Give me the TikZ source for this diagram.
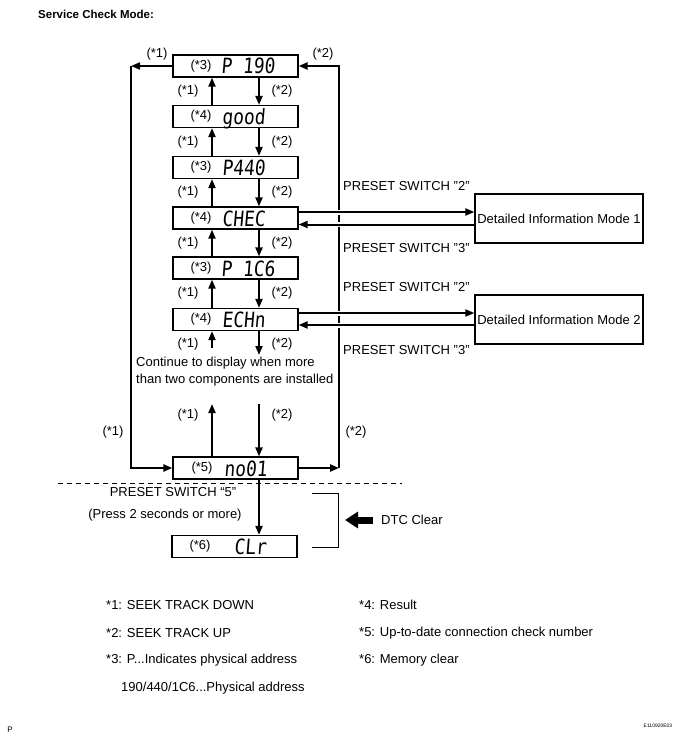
\documentclass[tikz,border=0pt]{standalone}
\usepackage{fontspec}
\usepackage{graphicx}
\setmainfont{Liberation Sans}
\newfontfamily\lcdfont{DejaVu Sans Mono}[FakeSlant=0.1]
\usetikzlibrary{arrows.meta}
\newcommand\lcdtxt[1]{\scalebox{0.85}[1]{\lcdfont\fontsize{21}{21}\selectfont #1}}
\begin{document}
\begin{tikzpicture}[x=1pt,y=-1pt,
  every node/.style={font=\fontsize{13}{17}\selectfont, inner sep=0pt},
  box/.style={draw, line width=1.2pt, minimum width=125pt, minimum height=22pt},
  dim/.style={draw, line width=1.2pt, minimum width=168pt, minimum height=49pt},
  lcd/.style={anchor=base west},
  arr/.style={line width=2pt, -{Triangle[length=9pt,width=7pt]}},
  side/.style={line width=2.4pt, line join=miter},
  hor/.style={line width=2pt, -{Triangle[length=9pt,width=7pt]},
    preaction={draw=white, line width=5pt, -, shorten <=3pt, shorten >=3pt}},
  lbl/.style={anchor=west},
  leg/.style={anchor=west}
]
\useasboundingbox (0,0) rectangle (695,746);

\node[font=\bfseries\fontsize{11.5}{14}\selectfont, anchor=west] (title) at (38,14) {Service Check Mode:};

% boxes
\node[box] (p190) at (235.5,66) {};
\node[box] (good) at (235.5,116.5) {};
\node[box] (p440) at (235.5,167.5) {};
\node[box] (chec) at (235.5,218) {};
\node[box] (p1c6) at (235.5,268) {};
\node[box] (echn) at (235.5,319.5) {};
\node[box] (no01) at (235.5,468) {};
\node[box] (clr) at (234.5,546.5) {};

% tags inside boxes
\node (t1) at (201,66) {(*3)};
\node (t2) at (201,116.5) {(*4)};
\node (t3) at (201,167.5) {(*3)};
\node (t4) at (201,218) {(*4)};
\node (t5) at (201,268) {(*3)};
\node (t6) at (201,319.5) {(*4)};
\node (t7) at (202,468) {(*5)};
\node (t8) at (200,546.5) {(*6)};

% LCD texts
\node[lcd] (l1) at (221,74) {\lcdtxt{P 190}};
\node[lcd] (l2) at (222,124.5) {\lcdtxt{good}};
\node[lcd] (l3) at (222,175.5) {\lcdtxt{P440}};
\node[lcd] (l4) at (222,226) {\lcdtxt{CHEC}};
\node[lcd] (l5) at (221,276) {\lcdtxt{P 1C6}};
\node[lcd] (l6) at (222,327.5) {\lcdtxt{ECHn}};
\node[lcd] (l7) at (224,476) {\lcdtxt{no01}};
\node[lcd] (l8) at (234,554.5) {\lcdtxt{CLr}};

\coordinate (upx) at (212,0);
\coordinate (dnx) at (259,0);

% vertical chain arrows
\draw[arr] (good.north -| upx) -- (p190.south -| upx);
\draw[arr] (p190.south -| dnx) -- (good.north -| dnx);
\draw[arr] (p440.north -| upx) -- (good.south -| upx);
\draw[arr] (good.south -| dnx) -- (p440.north -| dnx);
\draw[arr] (chec.north -| upx) -- (p440.south -| upx);
\draw[arr] (p440.south -| dnx) -- (chec.north -| dnx);
\draw[arr] (p1c6.north -| upx) -- (chec.south -| upx);
\draw[arr] (chec.south -| dnx) -- (p1c6.north -| dnx);
\draw[arr] (echn.north -| upx) -- (p1c6.south -| upx);
\draw[arr] (p1c6.south -| dnx) -- (echn.north -| dnx);

\node (a1) at (188,91.5) {(*1)};   \node (b1) at (282,91.5) {(*2)};
\node (a2) at (188,142) {(*1)};    \node (b2) at (282,142) {(*2)};
\node (a3) at (188,192.5) {(*1)};  \node (b3) at (282,192.5) {(*2)};
\node (a4) at (188,243) {(*1)};    \node (b4) at (282,243) {(*2)};
\node (a5) at (188,293.5) {(*1)};  \node (b5) at (282,293.5) {(*2)};

% continuation
\coordinate (c1) at (212,348);
\coordinate (c2) at (259,355);
\draw[arr] (c1) -- (echn.south -| c1);
\draw[arr] (echn.south -| c2) -- (c2);
\node (a6) at (188,344) {(*1)};  \node (b6) at (282,344) {(*2)};
\node[align=left, anchor=west] (cont) at (136,371.5) {Continue to display when more\\than two components are installed};

\coordinate (d1) at (212,404);
\coordinate (d2) at (259,404);
\draw[arr] (no01.north -| d1) -- (d1);
\draw[arr] (d2) -- (no01.north -| d2);
\node (a7) at (188,415) {(*1)};  \node (b7) at (282,415) {(*2)};

% side loops
\coordinate (tl) at (131,66);
\coordinate (bl) at (131,468);
\coordinate (tr) at (339,66);
\coordinate (br) at (339,468);
\draw[arr] (p190.west) -- (tl);
\draw[side, -{Triangle[length=9pt,width=7pt]}] (tl) -- (bl) -- (no01.west);
\draw[side, -{Triangle[length=9pt,width=7pt]}] (no01.east) -- (br);
\draw[side, -{Triangle[length=9pt,width=7pt]}] (br) -- (tr) -- (p190.east);
\node (s1) at (157,54) {(*1)};
\node (s2) at (323,54) {(*2)};
\node (s3) at (113,432) {(*1)};
\node (s4) at (356,432) {(*2)};

% detailed information boxes
\node[dim] (dim1) at (559,218.5) {Detailed Information Mode 1};
\node[dim] (dim2) at (559,319.5) {Detailed Information Mode 2};
\draw[hor] ([yshift=6pt]chec.east) -- ([yshift=6pt]chec.east -| dim1.west);
\draw[hor] ([yshift=-6.5pt]chec.east -| dim1.west) -- ([yshift=-6.5pt]chec.east);
\draw[hor] ([yshift=6.5pt]echn.east) -- ([yshift=6.5pt]echn.east -| dim2.west);
\draw[hor] ([yshift=-5.5pt]echn.east -| dim2.west) -- ([yshift=-5.5pt]echn.east);
\node[lbl] (ps1) at (343,186) {PRESET SWITCH "2"};
\node[lbl] (ps2) at (343,248) {PRESET SWITCH "3"};
\node[lbl] (ps3) at (343,287) {PRESET SWITCH "2"};
\node[lbl] (ps4) at (343,350) {PRESET SWITCH "3"};

% clear section
\coordinate (dashL) at (58,483);
\coordinate (dashR) at (402,483);
\draw[line width=0.8pt, dash pattern=on 5pt off 4pt] (dashL) -- (dashR);
\draw[arr] (no01.south -| dnx) -- (clr.north -| dnx);
\node (ps5) at (173,492) {PRESET SWITCH “5”};
\node (press) at (165,515) {(Press 2 seconds or more)};
\coordinate (k1) at (312,493);
\coordinate (k2) at (338,493);
\coordinate (k3) at (338,547);
\coordinate (k4) at (312,547);
\draw[line width=1pt] (k1) -- (k2) -- (k3) -- (k4);
\coordinate (dtcR) at (373,520);
\coordinate (dtcL) at (345,520);
\draw[line width=7pt, -{Triangle[length=13pt,width=16pt]}] (dtcR) -- (dtcL);
\node[lbl] (dtc) at (381,520) {DTC Clear};

% legend
\node[leg] (g1) at (106,605) {*1: SEEK TRACK DOWN};
\node[leg] (g2) at (106,633) {*2: SEEK TRACK UP};
\node[leg] (g3) at (106,660) {*3: P...Indicates physical address};
\node[leg] (g4) at (121,688) {190/440/1C6...Physical address};
\node[leg] (g5) at (359,605) {*4: Result};
\node[leg] (g6) at (359,633) {*5: Up-to-date connection check number};
\node[leg] (g7) at (359,660) {*6: Memory clear};

\node[font=\fontsize{8}{9}\selectfont] (pm) at (10,730) {P};
\node[font=\fontsize{5}{6}\selectfont] (code) at (658,726) {E110920E03};
\end{tikzpicture}
\end{document}
